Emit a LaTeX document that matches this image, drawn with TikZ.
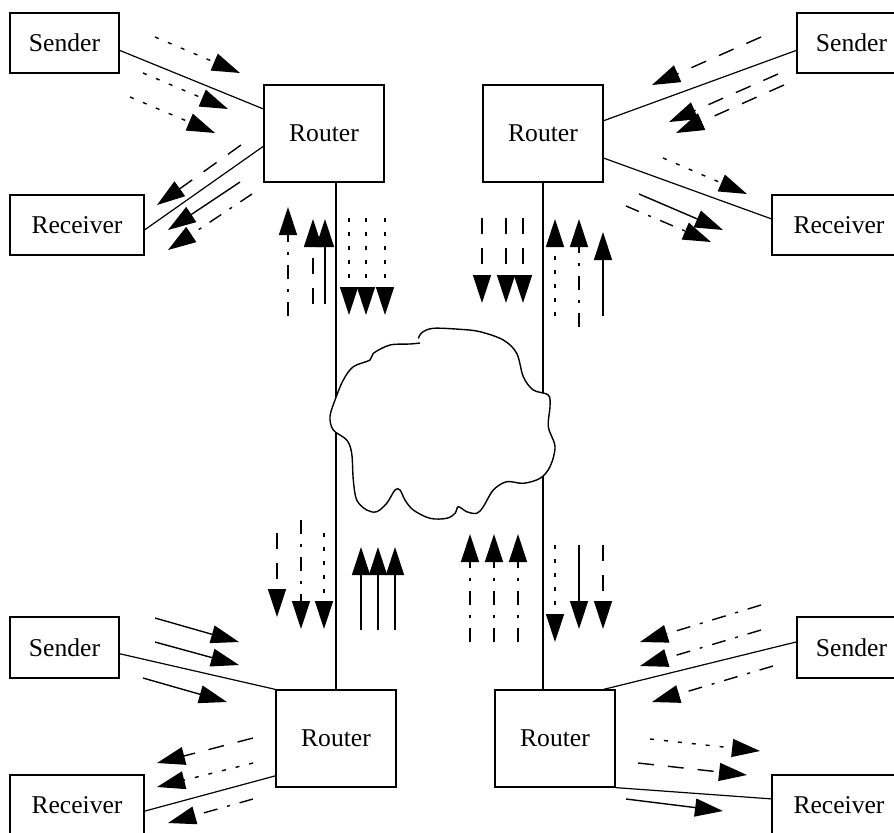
\documentclass[tikz,border=0pt]{standalone}
\usepackage{fontspec}
\setmainfont{Liberation Serif}
\usetikzlibrary{arrows.meta,calc}
\tikzset{
  box/.style={draw,line width=0.6pt,inner sep=0pt,font=\fontsize{12.8}{15}\selectfont},
  sendbox/.style={box,minimum width=54.5pt,minimum height=30pt},
  recvbox/.style={box,minimum width=67pt,minimum height=30pt},
  routbox/.style={box,minimum width=60pt,minimum height=48.5pt},
  link/.style={line width=0.6pt},
  flow/.style={line width=0.7pt,-{Triangle[length=14pt,width=9pt]}},
  fsolid/.style={flow},
  fdot/.style={flow,dash pattern=on 2pt off 5pt},
  fdash/.style={flow,dash pattern=on 8pt off 7pt},
  fdashdot/.style={flow,dash pattern=on 7pt off 5pt on 1.5pt off 5pt},
}
\newcommand\flw[3]{\draw[#1] (#2) -- (#3);}
\begin{document}
\begin{tikzpicture}[x=0.5pt,y=-0.5pt]
\useasboundingbox (0,0) rectangle (894,832);
% nodes
\node[sendbox] (sTL) at (64.5,43) {Sender};
\node[recvbox] (vTL) at (77,225) {Receiver};
\node[routbox] (rTL) at (324,133.5) {Router};
\node[routbox] (rTR) at (543,133.5) {Router};
\node[sendbox] (sTR) at (851.5,43) {Sender};
\node[recvbox] (vTR) at (839,225) {Receiver};
\node[sendbox,minimum height=30.5pt] (sBL) at (64.5,647.5) {Sender};
\node[recvbox] (vBL) at (77,805) {Receiver};
\node[routbox] (rBL) at (336,738.5) {Router};
\node[routbox] (rBR) at (555,738.5) {Router};
\node[sendbox,minimum height=30.5pt] (sBR) at (851.5,647.5) {Sender};
\node[recvbox] (vBR) at (839,805) {Receiver};
% links
\draw[link] ($(sTL.north east)!0.62!(sTL.south east)$) -- ($(rTL.north west)!0.25!(rTL.south west)$);
\draw[link] ($(vTL.north east)!0.58!(vTL.south east)$) -- ($(rTL.north west)!0.63!(rTL.south west)$);
\draw[link] ($(sTR.north west)!0.62!(sTR.south west)$) -- ($(rTR.north east)!0.37!(rTR.south east)$);
\draw[link] ($(vTR.north west)!0.4!(vTR.south west)$) -- ($(rTR.north east)!0.75!(rTR.south east)$);
\draw[link] ($(sBL.north east)!0.6!(sBL.south east)$) -- (rBL.north west);
\draw[link] ($(vBL.north east)!0.6!(vBL.south east)$) -- ($(rBL.north west)!0.88!(rBL.south west)$);
\draw[link] ($(sBR.north west)!0.41!(sBR.south west)$) -- ($(rBR.north west)!0.9!(rBR.north east)$);
\draw[link] ($(vBR.north west)!0.4!(vBR.south west)$) -- (rBR.south east);
\draw[link] (rBL.north) -- (rBL.north |- rTL.south);
\draw[link] (rTR.south) -- (rTR.south |- rBR.north);
% cloud
\fill[white] plot[smooth cycle,tension=0.55] coordinates {
(420,333.3) (433.3,328.3) (460,329.3) (480,331.7) (503.3,340) (516.7,353.3)
(523.3,376.7) (533.3,390) (548.3,395) (550,406.7) (548.3,426.7) (555,446.7)
(550,466.7) (540,478.3) (523.3,483.3) (506.7,481.7) (493.3,490) (483.3,506.7)
(476.7,513.3) (466.7,511.7) (458.3,506.7) (455,513.3) (446.7,518.3) (430,518.3)
(413.3,510) (405,500) (400,490) (395,490) (386.7,503.3) (376.7,511.7)
(366.7,510) (356.7,500) (353.3,480) (351.7,453.3) (346.7,440) (333.3,430)
(330,416.7) (335,400) (343.3,380) (353.3,366.7) (370,360) (373.3,353.3)
(390,345) (420,344)};
\draw[line width=0.7pt] plot[smooth,tension=0.55] coordinates {
(418.3,338.5) (422,332.5) (433.3,328.3) (460,329.3) (480,331.7) (503.3,340) (516.7,353.3)
(523.3,376.7) (533.3,390) (548.3,395) (550,406.7) (548.3,426.7) (555,446.7)
(550,466.7) (540,478.3) (523.3,483.3) (506.7,481.7) (493.3,490) (483.3,506.7)
(476.7,513.3) (466.7,511.7) (458.3,506.7) (455,513.3) (446.7,518.3) (430,518.3)
(413.3,510) (405,500) (400,490) (395,490) (386.7,503.3) (376.7,511.7)
(366.7,510) (356.7,500) (353.3,480) (351.7,453.3) (346.7,440) (333.3,430)
(330,416.7) (335,400) (343.3,380) (353.3,366.7) (370,360) (373.3,353.3)
(390,345) (410,344) (420,343)};
% top-left flows
\flw{fdot}{155,37}{240,73}
\flw{fdot}{143,73}{228,109}
\flw{fdot}{130,97}{215,133}
\flw{fdash}{241,145}{157,205}
\flw{fsolid}{240,182}{168,230}
\flw{fdashdot}{252,194}{168,250}
% top-right flows
\flw{fdash}{761,37}{652,85}
\flw{fdash}{778,74}{669,122}
\flw{fdash}{784,85}{676,133}
\flw{fdot}{663,158}{747,194}
\flw{fsolid}{639,194}{723,230}
\flw{fdashdot}{626,206}{711,242}
% top vertical flows
\flw{fdashdot}{288,316}{288,207}
\flw{fdash}{313,304}{313,219}
\flw{fsolid}{325,304}{325,219}
\flw{fdot}{349,218}{349,315}
\flw{fdot}{366,218}{366,315}
\flw{fdot}{385,218}{385,315}
\flw{fdash}{482,218}{482,303}
\flw{fdash}{506,218}{506,303}
\flw{fdash}{523,218}{523,303}
\flw{fdot}{555,316}{555,219}
\flw{fdashdot}{579,327}{579,219}
\flw{fsolid}{603,316}{603,232}
% bottom vertical flows
\flw{fdash}{277,533}{277,617}
\flw{fdashdot}{301,520}{301,629}
\flw{fdot}{324,533}{324,629}
\flw{fsolid}{361,630}{361,547}
\flw{fsolid}{378,630}{378,547}
\flw{fsolid}{395,630}{395,547}
\flw{fdashdot}{470,642}{470,534}
\flw{fdashdot}{494,642}{494,534}
\flw{fdashdot}{518,642}{518,534}
\flw{fdot}{555,545}{555,642}
\flw{fsolid}{579,545}{579,629}
\flw{fdash}{603,545}{603,629}
% bottom-left flows
\flw{fsolid}{155,618}{239,642}
\flw{fsolid}{155,642}{239,665}
\flw{fsolid}{143,678}{227,702}
\flw{fdash}{253,738}{157,763}
\flw{fdot}{253,763}{157,787}
\flw{fdashdot}{253,799}{168,823}
% bottom-right flows
\flw{fdashdot}{761,605}{640,642}
\flw{fdashdot}{761,630}{640,666}
\flw{fdashdot}{773,666}{652,702}
\flw{fdot}{650,739}{760,751}
\flw{fdash}{638,763}{747,775}
\flw{fsolid}{626,799}{723,811}
\end{tikzpicture}
\end{document}
